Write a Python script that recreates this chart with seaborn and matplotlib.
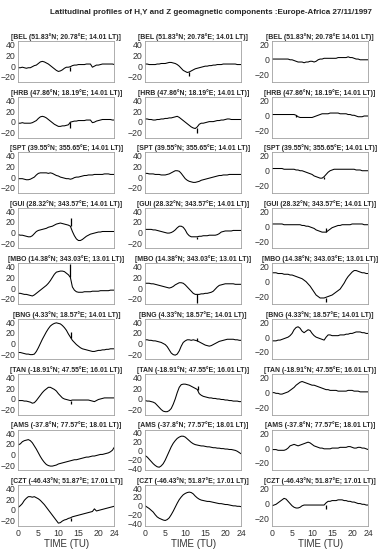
import numpy as np
import pandas as pd
import matplotlib
matplotlib.use("Agg")
import matplotlib.pyplot as plt
import seaborn as sns

# half-hour samples, 0 to 24 TU
hours = np.arange(0, 24.5, 0.5)

stations = ["BEL", "HRB", "SPT", "GUI", "MBO", "BNG", "TAN", "AMS", "CZT"]
coords = ["51.83°N; 20.78°E; 14.01 LT", "47.86°N; 18.19°E; 14.01 LT",
          "39.55°N; 355.65°E; 14.01 LT", "28.32°N; 343.57°E; 14.01 LT",
          "14.38°N; 343.03°E; 13.01 LT", "4.33°N; 18.57°E; 14.01 LT",
          "-18.91°N; 47.55°E; 16.01 LT", "-37.8°N; 77.57°E; 18.01 LT",
          "-46.43°N; 51.87°E; 17.01 LT"]

# H component (nT)
H = {
    "BEL": [-3,-3,-2,-3,-4,-3,-3,-1,1,2, 5,8,9,8,6,4,1,-2,-5,-8,
            -10,-9,-7,-4,-2,-2,-1,1,2,2, 3,3,3,3,4,4,4,-2,0,2, 2,3,4,4,4,4,4,4,3],
    "HRB": [-3,-3,-2,-3,-3,-3,-3,-2,0,2, 6,9,10,9,7,4,1,-2,-5,-7,
            -9,-9,-8,-8,-7,-6,-1,0,1,1, 2,2,2,2,3,3,3,-2,-1,1, 2,3,4,4,4,4,4,3,3],
    "SPT": [-3,-3,-3,-4,-5,-5,-4,-2,0,4, 7,8,8,8,8,7,8,7,5,3,
            2,0,-1,-2,-3,-3,-4,-3,-1,0, 0,1,2,3,3,4,4,4,5,5, 5,5,5,6,6,6,5,5,5],
    "GUI": [-4,-5,-5,-6,-7,-8,-8,-6,-2,2, 4,5,6,7,8,10,11,12,14,16,
            17,18,17,16,15,14,12,2,-6,-12, -15,-15,-13,-10,-7,-5,-3,-2,-1,0, 1,1,2,2,2,2,2,2,2],
    "MBO": [-10,-10,-11,-12,-12,-13,-14,-15,-13,-10, -7,-4,-1,2,5,9,14,20,26,30,
            31,32,32,31,28,25,20,2,-4,-7, -8,-8,-8,-7,-7,-7,-7,-6,-6,-6, -6,-5,-5,-5,-5,-5,-4,-4,-4],
    "BNG": [-17,-17,-18,-19,-20,-20,-21,-21,-20,-15, -8,0,8,15,22,28,33,36,38,39,
            38,37,34,30,25,18,12,6,2,-2, -5,-8,-10,-11,-12,-13,-14,-15,-15,-14, -13,-13,-12,-12,-11,-11,-10,-10,-10],
    "TAN": [-3,-3,-3,-4,-4,-5,-6,-8,-7,-3, 2,7,12,16,19,22,22,20,18,15,
            10,6,2,0,-1,-2,-3,-2,-2,-2, -2,-2,-2,-2,-2,-2,-3,-4,-5,-3, -1,0,1,2,2,2,2,2,2],
    "AMS": [18,20,24,26,27,28,26,22,16,10, 3,-4,-10,-15,-19,-21,-22,-22,-21,-20,
            -18,-17,-16,-15,-14,-13,-12,-11,-10,-10, -9,-8,-7,-6,-5,-5,-4,-3,-3,-2, -1,0,0,1,2,3,5,8,14],
    "CZT": [5,8,12,18,22,25,25,24,25,23, 21,18,14,10,5,0,-5,-10,-15,-20,
            -25,-24,-21,-19,-18,-16,-15,-13,-12,-11, -10,-9,-8,-7,-6,-5,-4,-3,2,-2, -1,0,1,2,3,4,5,6,7],
}

# Y component (nT)
Y = {
    "BEL": [4,4,3,3,3,3,4,4,5,5, 5,6,7,7,6,5,3,0,-4,-8,
            -10,-12,-11,-9,-7,-5,-4,-3,-2,-1, 0,0,1,1,2,2,3,3,3,4, 4,4,4,4,4,4,3,3,3],
    "HRB": [5,5,4,4,3,3,4,4,5,5, 6,6,7,7,8,9,10,8,5,2,
            -1,-4,-7,-10,-12,-13,-10,-5,-3,-3, -2,-1,0,0,0,1,2,2,3,3, 4,5,5,4,4,4,4,4,4],
    "SPT": [7,7,6,6,6,5,5,5,4,4, 4,5,6,8,10,12,12,11,7,2,
            -3,-6,-8,-9,-10,-10,-9,-8,-6,-5, -4,-3,-2,-1,0,1,2,3,3,4, 4,4,5,5,5,5,5,5,5],
    "GUI": [6,6,6,6,5,5,4,3,2,1, 0,-1,-1,0,2,5,9,12,12,10,
            5,-2,-6,-8,-8,-8,-8,-7,-7,-6, -6,-6,-5,-5,-5,-5,-4,-2,1,2, 3,3,3,3,4,4,4,4,4],
    "MBO": [9,9,9,8,8,7,6,5,4,3, 2,1,0,1,3,6,8,10,10,9,
            6,2,-2,-6,-10,-12,-12,-12,-11,-11, -10,-10,-9,-8,-6,-2,2,5,6,7, 8,8,8,8,8,7,7,7,7],
    "BNG": [7,7,6,6,5,5,4,3,2,0, -2,-6,-12,-18,-21,-22,-20,-14,-5,2,
            5,7,7,6,7,6,5,3,1,-1, -3,-4,-5,-4,-2,0,2,4,5,6, 7,8,8,8,8,7,7,6,6],
    "TAN": [-3,-4,-4,-5,-6,-8,-12,-16,-20,-23, -24,-24,-22,-18,-10,0,12,22,27,28,
            28,27,26,24,22,20,18,10,7,5, 4,3,2,2,1,1,0,0,-1,-1, -2,-2,-3,-3,-4,-4,-4,-5,-5],
    "AMS": [-12,-15,-20,-25,-30,-34,-37,-38,-35,-30, -22,-12,-2,8,16,22,27,30,32,32,
            30,26,22,18,15,13,12,11,10,10, 9,8,8,7,6,6,5,5,4,4, 3,3,2,2,1,0,-2,-5,-8],
    "CZT": [0,-3,-6,-10,-14,-20,-25,-28,-30,-32, -33,-31,-27,-20,-12,-3,6,14,20,25,
            28,30,31,30,27,22,18,15,13,12, 11,10,10,9,8,7,6,5,5,4, 3,3,2,1,0,0,-1,-1,-2],
}

# Z component (nT)
Z = {
    "BEL": [1,1,1,1,1,1,1,1,1,0, 0,-1,-2,-3,-3,-3,-4,-3,-3,-2,
            -2,-3,-2,0,1,1,2,2,2,2, 2,2,2,3,3,3,3,3,4,3, 3,2,1,1,0,0,0,0,0],
    "HRB": [1,1,1,1,1,1,1,1,1,1, 1,1,0,-2,-3,-3,-3,-3,-3,-3,
            -3,-2,-1,0,1,2,2,2,2,3, 3,3,3,3,2,2,2,2,1,1, 0,0,-1,-2,-2,-2,-1,-1,-1],
    "SPT": [3,3,3,3,3,3,2,2,2,2, 2,2,1,1,0,0,-1,-2,-3,-4,
            -5,-7,-8,-9,-10,-10,-8,-5,-2,0, 1,2,2,2,2,2,2,2,2,2, 2,2,1,1,1,0,0,0,0],
    "GUI": [3,3,3,3,3,3,2,2,2,2, 2,2,2,2,2,1,1,0,0,-1,
            -2,-3,-5,-6,-7,-8,-8,-8,-6,-4, -2,-1,0,1,1,2,2,2,2,2, 3,3,3,3,3,3,2,2,2],
    "MBO": [12,12,12,11,11,11,10,10,10,9, 9,8,7,6,5,4,2,0,-3,-6,
            -10,-14,-18,-20,-22,-22,-22,-21,-20,-19, -18,-16,-14,-12,-10,-6,-2,3,7,10, 13,15,15,14,13,12,12,11,11],
    "BNG": [-5,-5,-5,-4,-4,-3,-2,-1,0,2, 5,10,13,14,12,8,6,8,10,9,
            5,2,0,-1,-2,-3,-4,0,3,3, 2,2,2,2,3,3,3,4,4,5, 5,6,7,7,7,6,6,5,5],
    "TAN": [0,0,-1,-1,-2,-2,-1,0,1,3, 5,7,10,12,14,15,14,13,12,11,
            10,10,9,8,7,6,5,4,4,3, 3,3,3,2,2,2,2,2,3,3, 3,2,2,2,1,1,1,1,1],
    "AMS": [-2,-2,-2,-3,-3,-3,-3,-2,0,3, 4,5,4,3,4,5,6,7,8,7,
            5,3,2,1,0,0,-1,-1,-1,-1, 0,0,0,0,1,1,1,1,2,2, 1,0,0,1,1,0,0,-1,-2],
    "CZT": [-3,-2,-1,1,3,5,7,6,3,0, -3,-5,-6,-6,-5,-3,-2,-2,-2,-2,
            -2,-2,-2,-2,-2,-2,-2,1,3,3, 4,4,4,5,5,5,4,4,3,3, 2,2,1,0,0,-1,-1,-2,-2],
}

# sudden-commencement spikes: (component, station) -> (time, base, tip)
spikes = {
    ("H", "BEL"): (13.0, -1, -9), ("H", "HRB"): (13.0, -1, -12),
    ("H", "GUI"): (13.2, 13, 28), ("H", "MBO"): (13.0, 20, 45),
    ("H", "BNG"): (13.2, 10, 22), ("H", "TAN"): (13.2, -3, -10),
    ("H", "CZT"): (13.2, -15, -20),
    ("Y", "BEL"): (11.0, -11, -18), ("Y", "HRB"): (13.0, -12, -22),
    ("Y", "GUI"): (13.0, -8, -12), ("Y", "MBO"): (13.0, -12, -28),
    ("Y", "BNG"): (13.0, 5, 10), ("Y", "TAN"): (13.3, 16, 24),
    ("Z", "HRB"): (6.0, 0, -2), ("Z", "SPT"): (13.0, -8, -11),
    ("Z", "GUI"): (13.5, -8, -3), ("Z", "MBO"): (13.4, -22, -28),
    ("Z", "CZT"): (13.5, -2, -7),
}

sns.set_style("white")
plt.rcParams["font.family"] = ["Liberation Sans", "DejaVu Sans"]

fig, axes = plt.subplots(9, 3, figsize=(3.9, 5.5), dpi=100)
fig.subplots_adjust(left=0.047, right=0.944, top=0.925, bottom=0.044,
                    hspace=0.36, wspace=0.32)

fig.text(0.54, 0.978,
         "Latitudinal profiles of H,Y and Z geomagnetic components :Europe-Africa 27/11/1997",
         ha="center", va="center", fontsize=5.8, fontweight="bold")

comps = [("H", H), ("Y", Y), ("Z", Z)]
for i, st in enumerate(stations):
    for j, (cname, data) in enumerate(comps):
        ax = axes[i, j]
        df = pd.DataFrame({"t": hours, "v": data[st]})
        sns.lineplot(data=df, x="t", y="v", ax=ax, color="black", linewidth=0.75)
        if (cname, st) in spikes:
            ts, b, tip = spikes[(cname, st)]
            ax.vlines(ts, b, tip, color="black", linewidth=0.9)
        label = coords[i]
        if j == 2 and st == "BEL":
            label = label.replace("°E;", "°E")
        ax.set_title("[%s (%s)]" % (st, label), fontsize=4.95, fontweight="bold", pad=1.5)
        ax.set_xlim(0, 24)
        if j == 2:
            ax.set_ylim(-30, 25)
            ax.set_yticks([-20, 0, 20])
        elif j == 1 and st in ("AMS", "CZT"):
            ax.set_ylim(-45, 47)
            ax.set_yticks([-40, -20, 0, 20, 40])
        else:
            ax.set_ylim(-30, 47)
            ax.set_yticks([-20, 0, 20, 40])
        ax.set_xticks([0, 5, 10, 15, 20, 24])
        ax.set_xlabel("")
        ax.set_ylabel("")
        ax.tick_params(direction="in", length=1.5, width=0.4, color="#888888",
                       labelsize=6.3, labelcolor="#333333", pad=2)
        if i < 8:
            ax.set_xticklabels([])
        else:
            ax.set_xlabel("TIME (TU)", fontsize=7, color="#333333", labelpad=1)
        for sp in ax.spines.values():
            sp.set_color("#a0a0a0")
            sp.set_linewidth(0.6)

fig.savefig("out.png", dpi=100)
